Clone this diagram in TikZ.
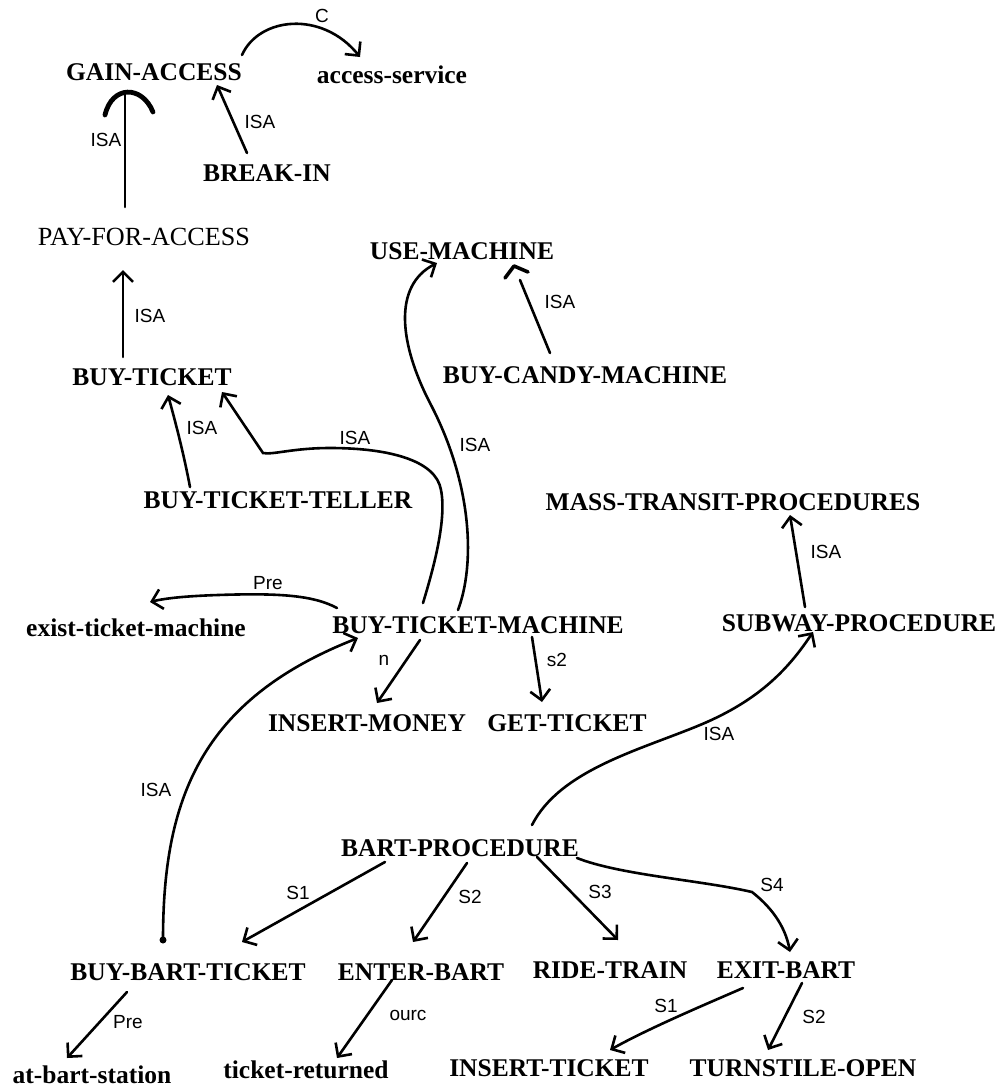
\documentclass[tikz,border=0pt]{standalone}
\usepackage{fontspec}
\setmainfont{Liberation Serif}
\setsansfont{Liberation Sans}
\usetikzlibrary{arrows.meta,calc}
\begin{document}
\begin{tikzpicture}[x=0.5pt,y=-0.5pt,
  concept/.style={font=\fontsize{12.75}{14}\selectfont\bfseries, inner sep=0pt, text height=8.4pt, text depth=0pt},
  plain/.style={font=\fontsize{13.1}{14}\selectfont, inner sep=0pt, text height=8.6pt, text depth=0pt},
  link/.style={line width=1.3pt, line cap=round, -{Straight Barb[length=5pt,width=10pt]}},
  bare/.style={line width=1.3pt, line cap=round},
  lab/.style={font=\sffamily\fontsize{9.5}{10}\selectfont, inner sep=0pt}]
\useasboundingbox (0,0) rectangle (1005,1088);
% nodes
\node[concept] (ga)  at (154,72)  {GAIN-ACCESS};
\node[concept] (as)  at (392,75)  {access-service};
\node[concept] (bi)  at (267,173) {BREAK-IN};
\node[plain]   (pfa) at (144,237) {PAY-FOR-ACCESS};
\node[concept] (um)  at (462,251) {USE-MACHINE};
\node[concept] (bt)  at (152,377) {BUY-TICKET};
\node[concept] (bcm) at (585,375) {BUY-CANDY-MACHINE};
\node[concept] (btt) at (278,500) {BUY-TICKET-TELLER};
\node[concept] (mtp) at (733,502) {MASS-TRANSIT-PROCEDURES};
\node[concept] (etm) at (136,628) {exist-ticket-machine};
\node[concept] (btm) at (478,625) {BUY-TICKET-MACHINE};
\node[concept] (sp)  at (859,623) {SUBWAY-PROCEDURE};
\node[concept] (im)  at (367,723) {INSERT-MONEY};
\node[concept] (gt)  at (567,723) {GET-TICKET};
\node[concept] (bp)  at (460,848) {BART-PROCEDURE};
\node[concept] (bbt) at (188,972) {BUY-BART-TICKET};
\node[concept] (eb)  at (421,972) {ENTER-BART};
\node[concept] (rt)  at (610,970) {RIDE-TRAIN};
\node[concept] (xb)  at (786,970) {EXIT-BART};
\node[concept] (abs) at (92,1075) {at-bart-station};
\node[concept] (tr)  at (306,1070) {ticket-returned};
\node[concept] (it)  at (549,1068) {INSERT-TICKET};
\node[concept] (to)  at (803,1068) {TURNSTILE-OPEN};
% connectors
% PAY-FOR-ACCESS -> GAIN-ACCESS (heavy cap)
\draw[bare] ($(pfa)+(-19,-30)$) -- ($(ga)+(-29,20)$);
\draw[line width=2.4pt, line cap=round] ($(ga)+(-49,43)$) .. controls ($(ga)+(-42,13)$) and ($(ga)+(-12,13)$) .. ($(ga)+(-1,40)$);
\node[lab] (l1) at (106,140) {ISA};
% BREAK-IN -> GAIN-ACCESS
\draw[link] ($(bi)+(-20,-20)$) -- ($(ga)+(63,13)$);
\node[lab] (l2) at (260,122) {ISA};
% GAIN-ACCESS -> access-service
\draw[link] ($(ga)+(88,-17)$) .. controls ($(ga)+(105,-55)$) and ($(as)+(-70,-65)$) .. ($(as)+(-32,-18)$);
\node[lab] (l3) at (322,16) {C};
% BUY-TICKET -> PAY-FOR-ACCESS
\draw[link] ($(bt)+(-29,-20)$) -- ($(pfa)+(-21,33)$);
\node[lab] (l4) at (150,316) {ISA};
% BUY-TICKET-TELLER -> BUY-TICKET
\draw[link] ($(btt)+(-88,-13)$) .. controls ($(btt)+(-95,-50)$) and ($(bt)+(22,40)$) .. ($(bt)+(16,18)$);
\node[lab] (l5) at (202,428) {ISA};
% BUY-TICKET-MACHINE -> BUY-TICKET
\draw[link] ($(btm)+(-55,-22)$) .. controls ($(btm)+(-45,-55)$) and ($(btm)+(-31,-105)$) .. ($(btm)+(-37,-135)$)
  .. controls ($(btm)+(-42,-165)$) and ($(btm)+(-90,-177)$) .. ($(btm)+(-148,-177)$)
  .. controls ($(btm)+(-185,-177)$) and ($(btm)+(-205,-170)$) .. ($(btm)+(-215,-172)$)
  -- ($(bt)+(70,15)$);
\node[lab] (l6) at (355,438) {ISA};
% BUY-TICKET-MACHINE -> USE-MACHINE
\draw[link] ($(btm)+(-20,-15)$) .. controls ($(btm)+(-3,-60)$) and ($(btm)+(-5,-140)$) .. ($(btm)+(-48,-222)$)
  .. controls ($(btm)+(-78,-280)$) and ($(um)+(-70,35)$) .. ($(um)+(-25,12)$);
\node[lab] (l7) at (475,445) {ISA};
% BUY-CANDY-MACHINE -> USE-MACHINE (small cap)
\draw[bare] ($(bcm)+(-35,-22)$) -- ($(um)+(58,29)$);
\draw[line width=1.8pt, line cap=round, line join=round] ($(um)+(43,27)$) -- ($(um)+(52,15)$) -- ($(um)+(66,21)$);
\node[lab] (l8) at (560,302) {ISA};
% BUY-TICKET-MACHINE -> exist-ticket-machine
\draw[link] ($(btm)+(-141,-17)$) .. controls ($(btm)+(-165,-30)$) and ($(btm)+(-200,-32)$) .. ($(btm)+(-260,-30)$)
  .. controls ($(btm)+(-290,-29)$) and ($(etm)+(30,-30)$) .. ($(etm)+(14,-26)$);
\node[lab] (l9) at (268,583) {Pre};
% SUBWAY-PROCEDURE -> MASS-TRANSIT-PROCEDURES
\draw[link] ($(sp)+(-54,-16)$) -- ($(mtp)+(57,13)$);
\node[lab] (l10) at (826,552) {ISA};
% BUY-TICKET-MACHINE -> INSERT-MONEY / GET-TICKET
\draw[link] ($(btm)+(-58,15)$) -- ($(im)+(10,-20)$);
\node[lab] (l11) at (384,660) {n};
\draw[link] ($(btm)+(54,12)$) -- ($(gt)+(-25,-21)$);
\node[lab] (l12) at (557,660) {s2};
% BUY-BART-TICKET -> BUY-TICKET-MACHINE
\fill ($(bbt)+(-25,-32)$) circle (3.5);
\draw[link] ($(bbt)+(-25,-32)$) .. controls ($(bbt)+(-25,-172)$) and ($(bbt)+(12,-272)$) .. ($(btm)+(-120,13)$);
\node[lab] (l13) at (156,790) {ISA};
% BART-PROCEDURE -> SUBWAY-PROCEDURE
\draw[link] ($(bp)+(72,-23)$) .. controls ($(bp)+(100,-78)$) and ($(bp)+(180,-98)$) .. ($(bp)+(240,-123)$)
  .. controls ($(bp)+(300,-148)$) and ($(sp)+(-70,45)$) .. ($(sp)+(-46,9)$);
\node[lab] (l14) at (719,734) {ISA};
% BART-PROCEDURE -> steps
\draw[link] ($(bp)+(-75,14)$) -- ($(bbt)+(54,-30)$);
\node[lab] (l15) at (298,893) {S1};
\draw[link] ($(bp)+(7,15)$) -- ($(eb)+(-8,-30)$);
\node[lab] (l16) at (470,897) {S2};
\draw[link] ($(bp)+(77,9)$) -- ($(rt)+(8,-30)$);
\node[lab] (l17) at (600,892) {S3};
\draw[link] ($(bp)+(117,10)$) .. controls ($(bp)+(160,27)$) and ($(bp)+(240,32)$) .. ($(bp)+(292,44)$)
  .. controls ($(bp)+(315,62)$) and ($(xb)+(0,-40)$) .. ($(xb)+(4,-18)$);
\node[lab] (l18) at (772,885) {S4};
% BUY-BART-TICKET -> at-bart-station
\draw[link] ($(bbt)+(-61,20)$) -- ($(abs)+(-25,-17)$);
\node[lab] (l19) at (128,1022) {Pre};
% ENTER-BART -> ticket-returned
\draw[link] ($(eb)+(-29,8)$) -- ($(tr)+(31,-12)$);
\node[lab] (l20) at (408,1015) {ourc};
% EXIT-BART -> INSERT-TICKET / TURNSTILE-OPEN
\draw[link] ($(xb)+(-43,18)$) .. controls ($(xb)+(-75,32)$) and ($(it)+(100,-40)$) .. ($(it)+(61,-18)$);
\node[lab] (l21) at (666,1006) {S1};
\draw[link] ($(xb)+(16,13)$) -- ($(to)+(-35,-18)$);
\node[lab] (l22) at (814,1017) {S2};
\end{tikzpicture}
\end{document}
